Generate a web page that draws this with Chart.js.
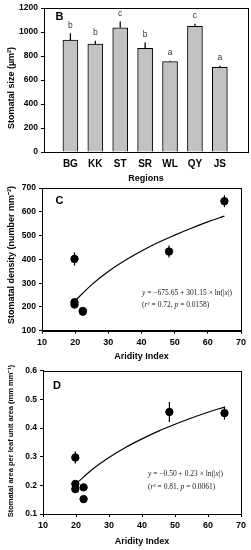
<!DOCTYPE html>
<html>
<head>
<meta charset="utf-8">
<script src="https://cdn.jsdelivr.net/npm/chart.js@4.4.1/dist/chart.umd.min.js"></script>
<style>
  html, body { margin: 0; padding: 0; background: #ffffff; }
  body { width: 251px; height: 550px; position: relative; overflow: hidden; }
  canvas { position: absolute; left: 0; }
</style>
</head>
<body>
<canvas id="cB" width="251" height="190" style="top:0px"></canvas>
<canvas id="cC" width="251" height="186" style="top:180px"></canvas>
<canvas id="cD" width="251" height="188" style="top:362px"></canvas>
<script>
// ---------- data ----------
const regions = ['BG', 'KK', 'ST', 'SR', 'WL', 'QY', 'JS'];
const sizeMean = [933, 900, 1036, 864, 753, 1047, 706];
const sizeErr = [56, 28, 53, 50, 8, 22, 14];
const sizeLetters = ['b', 'b', 'c', 'b', 'a', 'c', 'a'];

const aridity = [19.8, 19.8, 19.8, 22.3, 22.3, 48.3, 65.0];
const density = [402, 220, 210, 183, 180, 433, 645];
const densityErr = [28, 10, 8, 6, 6, 25, 25];
const area = [0.297, 0.205, 0.187, 0.193, 0.152, 0.456, 0.452];
const areaErr = [0.021, 0.008, 0.012, 0.006, 0.005, 0.035, 0.023];

const fitX = [20, 25, 30, 35, 40, 45, 50, 55, 60, 65];
const densityFit = [226, 294, 349, 395, 435, 471, 502, 531, 558, 582];
const areaFit = [0.205, 0.256, 0.297, 0.332, 0.362, 0.389, 0.413, 0.435, 0.455, 0.473];

const sizeTicks = [0, 200, 400, 600, 800, 1000, 1200];
const densityTicks = [100, 200, 300, 400, 500, 600, 700];
const areaTicks = [0.1, 0.2, 0.3, 0.4, 0.5, 0.6];
const aridityTicks = [10, 20, 30, 40, 50, 60, 70];

// ---------- helpers ----------
const SANS = "'Liberation Sans', Arial, sans-serif";
const SERIF = "'Liberation Serif', 'Times New Roman', serif";

const framePlugin = {
  id: 'frame',
  afterDraw(chart) {
    const a = chart.chartArea, ctx = chart.ctx;
    ctx.save();
    ctx.strokeStyle = '#000';
    ctx.lineWidth = 1;
    ctx.strokeRect(Math.round(a.left) + 0.5, Math.round(a.top) + 0.5,
                   Math.round(a.right - a.left), Math.round(a.bottom - a.top));
    ctx.restore();
  }
};

const annPlugin = {
  id: 'ann',
  afterDraw(chart, args, o) {
    const ctx = chart.ctx, a = chart.chartArea;
    ctx.save();
    ctx.fillStyle = '#000';
    ctx.font = 'bold 11px ' + SANS;
    ctx.textAlign = 'center';
    ctx.textBaseline = 'middle';
    ctx.fillText(o.letter, a.left + o.lx, a.top + o.ly);
    ctx.save();
    ctx.translate(o.tx, o.ty);
    ctx.rotate(-Math.PI / 2);
    ctx.font = 'bold ' + o.tsize + 'px ' + SANS;
    ctx.textAlign = 'center';
    ctx.textBaseline = 'middle';
    ctx.fillText(o.title, 0, 0);
    ctx.restore();
    if (o.eq) {
      o.eq.forEach((line, li) => {
        let x = a.left + o.ex;
        const y = a.top + o.ey + li * o.eh;
        line.forEach(seg => {
          ctx.font = (seg.i ? 'italic ' : '') + o.esize + 'px ' + SERIF;
          ctx.textAlign = 'left';
          ctx.textBaseline = 'middle';
          ctx.fillStyle = '#222';
          ctx.fillText(seg.t, x, y);
          x += ctx.measureText(seg.t).width;
        });
      });
    }
    ctx.restore();
  }
};

const barErrPlugin = {
  id: 'barErr',
  afterDatasetsDraw(chart) {
    const ctx = chart.ctx, xs = chart.scales.x, ys = chart.scales.y;
    ctx.save();
    ctx.strokeStyle = '#000';
    ctx.lineWidth = 1.3;
    sizeMean.forEach((m, i) => {
      const x = xs.getPixelForValue(i + 1);
      const y0 = ys.getPixelForValue(m);
      const y1 = ys.getPixelForValue(m + sizeErr[i]);
      ctx.beginPath(); ctx.moveTo(x, y0); ctx.lineTo(x, y1); ctx.stroke();
      ctx.fillStyle = '#333';
      ctx.font = '8.5px ' + SANS;
      ctx.textAlign = 'center';
      ctx.textBaseline = 'middle';
      ctx.fillText(sizeLetters[i], x, y1 - 8);
    });
    ctx.restore();
  }
};

function ptErrPlugin(vals, errs) {
  return {
    id: 'ptErr',
    beforeDatasetsDraw(chart) {
      const ctx = chart.ctx, xs = chart.scales.x, ys = chart.scales.y;
      ctx.save();
      ctx.strokeStyle = '#000';
      ctx.lineWidth = 1.2;
      vals.forEach((v, i) => {
        const x = xs.getPixelForValue(aridity[i]);
        ctx.beginPath();
        ctx.moveTo(x, ys.getPixelForValue(v - errs[i]));
        ctx.lineTo(x, ys.getPixelForValue(v + errs[i]));
        ctx.stroke();
      });
      ctx.restore();
    }
  };
}

function yAxis(min, max, ticks, width, fmt) {
  return {
    type: 'linear', min: min, max: max,
    afterBuildTicks: s => { s.ticks = ticks.map(v => ({ value: v })); },
    afterFit: s => { s.width = width; },
    border: { display: true, color: '#000', width: 1 },
    grid: { drawOnChartArea: false, drawTicks: true, tickLength: 3, color: '#000' },
    ticks: { color: '#000', padding: 3, font: { family: SANS, size: 8.5, weight: 'bold' },
             callback: fmt || (v => v) }
  };
}

function xAridity(height, titlePad) {
  return {
    type: 'linear', min: 10, max: 70,
    afterBuildTicks: s => { s.ticks = aridityTicks.map(v => ({ value: v })); },
    afterFit: s => { s.height = height; },
    border: { display: true, color: '#000', width: 1 },
    grid: { drawOnChartArea: false, drawTicks: true, tickLength: 3, color: '#000' },
    ticks: { color: '#000', padding: 3, maxRotation: 0, font: { family: SANS, size: 9, weight: 'bold' } },
    title: { display: true, text: 'Aridity Index', color: '#000',
             font: { family: SANS, size: 9, weight: 'bold' }, padding: { top: 0, bottom: titlePad } }
  };
}

const common = {
  responsive: false, animation: false, devicePixelRatio: 1,
  events: []
};

// ---------- Panel B ----------
new Chart(document.getElementById('cB'), {
  type: 'bar',
  data: {
    datasets: [{
      data: sizeMean.map((v, i) => ({ x: i + 1, y: v })),
      backgroundColor: '#c2c2c2',
      borderColor: '#000',
      borderWidth: 1,
      barThickness: 15
    }]
  },
  options: Object.assign({}, common, {
    layout: { padding: { top: 7, right: 3, left: 0, bottom: 0 } },
    scales: {
      x: {
        type: 'linear', min: -0.06, max: 8.13, offset: false,
        afterBuildTicks: s => { s.ticks = regions.map((r, i) => ({ value: i + 1 })); },
        afterFit: s => { s.height = 38; },
        border: { display: true, color: '#000', width: 1 },
        grid: { display: false, drawTicks: false },
        ticks: { color: '#000', padding: 6, maxRotation: 0, autoSkip: false,
                 font: { family: SANS, size: 10, weight: 'bold' },
                 callback: v => regions[v - 1] },
        title: { display: true, text: 'Regions', color: '#000',
                 font: { family: SANS, size: 9, weight: 'bold' }, padding: { top: 0, bottom: 5.6 } }
      },
      y: yAxis(0, 1200, sizeTicks, 44)
    },
    plugins: {
      legend: { display: false }, tooltip: { enabled: false },
      ann: { letter: 'B', lx: 15.5, ly: 8.5, title: 'Stomatal size (µm²)', tsize: 9, tx: 12, ty: 88 }
    }
  }),
  plugins: [framePlugin, barErrPlugin, annPlugin]
});

// ---------- Panel C ----------
new Chart(document.getElementById('cC'), {
  type: 'scatter',
  data: {
    datasets: [
      { data: aridity.map((x, i) => ({ x: x, y: density[i] })),
        pointRadius: 3.7, pointBackgroundColor: '#000', pointBorderColor: '#000', showLine: false },
      { data: fitX.map((x, i) => ({ x: x, y: densityFit[i] })),
        showLine: true, pointRadius: 0, borderColor: '#000', borderWidth: 1.2,
        cubicInterpolationMode: 'monotone', fill: false }
    ]
  },
  options: Object.assign({}, common, {
    layout: { padding: { top: 5.5, right: 10, left: 0, bottom: 0 } },
    scales: {
      x: xAridity(35.3, 3.6),
      y: yAxis(100, 700, densityTicks, 42)
    },
    plugins: {
      legend: { display: false }, tooltip: { enabled: false },
      ann: { letter: 'C', lx: 17.5, ly: 12.5, title: 'Stomatal density (number mm⁻²)', tsize: 9, tx: 12, ty: 75,
             esize: 7.5, ex: 100, ey: 104.5, eh: 12.5,
             eq: [
               [{ t: 'y', i: true }, { t: ' = −675.65 + 301.15 × ln(|' }, { t: 'x', i: true }, { t: '|)' }],
               [{ t: '(' }, { t: 'r', i: true }, { t: '² = 0.72, ' }, { t: 'p', i: true }, { t: ' = 0.0158)' }]
             ] }
    }
  }),
  plugins: [framePlugin, ptErrPlugin(density, densityErr), annPlugin]
});

// ---------- Panel D ----------
new Chart(document.getElementById('cD'), {
  type: 'scatter',
  data: {
    datasets: [
      { data: aridity.map((x, i) => ({ x: x, y: area[i] })),
        pointRadius: 3.7, pointBackgroundColor: '#000', pointBorderColor: '#000', showLine: false },
      { data: fitX.map((x, i) => ({ x: x, y: areaFit[i] })),
        showLine: true, pointRadius: 0, borderColor: '#000', borderWidth: 1.2,
        cubicInterpolationMode: 'monotone', fill: false }
    ]
  },
  options: Object.assign({}, common, {
    layout: { padding: { top: 8.7, right: 10, left: 0, bottom: 0 } },
    scales: {
      x: xAridity(36, 2.9),
      y: yAxis(0.1, 0.6, areaTicks, 43, v => v.toFixed(1))
    },
    plugins: {
      legend: { display: false }, tooltip: { enabled: false },
      ann: { letter: 'D', lx: 14, ly: 15, title: 'Stomatal area per leaf unit area (mm mm⁻¹)', tsize: 7.5, tx: 11, ty: 79,
             esize: 7.5, ex: 105, ey: 103.5, eh: 12.5,
             eq: [
               [{ t: 'y', i: true }, { t: ' = −0.50 + 0.23 × ln(|' }, { t: 'x', i: true }, { t: '|)' }],
               [{ t: '(' }, { t: 'r', i: true }, { t: '² = 0.81, ' }, { t: 'p', i: true }, { t: ' = 0.0061)' }]
             ] }
    }
  }),
  plugins: [framePlugin, ptErrPlugin(area, areaErr), annPlugin]
});
</script>
</body>
</html>
